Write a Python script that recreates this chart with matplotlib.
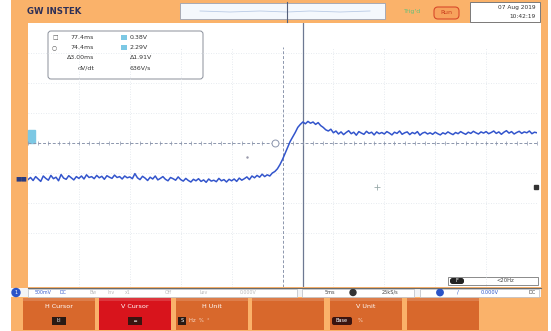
import numpy as np
import matplotlib.pyplot as plt
from matplotlib.patches import Rectangle, FancyBboxPatch

# CH1 trace, in screen divisions (10 x 8 graticule), one sample every 0.05 div
t_start, t_step = -5.0, 0.05
ch1 = [
    -1.22, -1.15, -1.25, -1.12, -1.20, -1.28, -1.10, -1.18, -1.24, -1.08,
    -1.19, -1.14, -1.26, -1.05, -1.17, -1.21, -1.09, -1.16, -1.23, -1.12,
    -1.18, -1.10, -1.20, -1.06, -1.15, -1.12, -1.19, -1.08, -1.16, -1.11,
    -1.21, -1.09, -1.14, -1.18, -1.07, -1.15, -1.12, -1.20, -1.10, -1.16,
    -1.13, -1.19, -1.02, -1.16, -1.22, -1.11, -1.17, -1.25, -1.14, -1.20,
    -1.10, -1.23, -1.18, -1.12, -1.21, -1.26, -1.15, -1.19, -1.24, -1.13,
    -1.22, -1.27, -1.18, -1.25, -1.30, -1.21, -1.26, -1.19, -1.28, -1.23,
    -1.31, -1.20, -1.27, -1.24, -1.29, -1.18, -1.26, -1.22, -1.30, -1.21,
    -1.26, -1.20, -1.28, -1.17, -1.24, -1.19, -1.13, -1.22, -1.10, -1.16,
    -1.08, -1.14, -1.04, -1.12, -1.06, -1.10, -1.00, -0.95, -0.86, -0.72,
    -0.55, -0.35, -0.15, 0.05, 0.20, 0.35, 0.52, 0.62, 0.70, 0.64,
    0.72, 0.66, 0.70, 0.62, 0.68, 0.58, 0.52, 0.44, 0.40, 0.46,
    0.34, 0.40, 0.30, 0.37, 0.28, 0.35, 0.41, 0.31, 0.36, 0.26,
    0.38, 0.33, 0.29, 0.39, 0.32, 0.36, 0.27, 0.37, 0.31, 0.35,
    0.30, 0.38, 0.33, 0.27, 0.36, 0.32, 0.40, 0.29, 0.34, 0.37,
    0.28, 0.35, 0.31, 0.38, 0.26, 0.33, 0.36, 0.30, 0.34, 0.29,
    0.36, 0.31, 0.27, 0.34, 0.30, 0.37, 0.32, 0.28, 0.35, 0.31,
    0.38, 0.33, 0.29, 0.36, 0.32, 0.39, 0.34, 0.30, 0.37, 0.33,
    0.38, 0.31, 0.35, 0.40, 0.32, 0.37, 0.29, 0.36, 0.41, 0.33,
    0.38, 0.30, 0.35, 0.39, 0.32, 0.37, 0.34, 0.40, 0.31, 0.36, 0.34,
]
t = t_start + t_step * np.arange(len(ch1))

# cursors (div)
v_cursors = [0.0, 0.40]
h_cursor = 0.0
trig = (-0.15, 0.0)

# readouts
meas_left = ["77.4ms", "74.4ms", "\u03943.00ms", "dV/dt"]
meas_right = ["0.38V", "2.29V", "\u03941.91V", "636V/s"]
buttons = ["H Cursor", "V Cursor", "H Unit", "", "V Unit", ""]
button_sub = ["I:I", "\u2550", "Hz  %  \u00b0", "", "%", ""]
date_txt = ["07 Aug 2019", "10:42:19"]

W, H = 551, 331
ORANGE = "#fab26a"
BTN = "#d8682c"
fig = plt.figure(figsize=(W / 100, H / 100), dpi=100)
fig.patch.set_facecolor("white")

# frame / decorations in pixel coordinates
bg = fig.add_axes([0, 0, 1, 1])
bg.set_xlim(0, W)
bg.set_ylim(H, 0)
bg.axis("off")
bg.add_patch(Rectangle((11, 0), 537, H, color=ORANGE, lw=0))
bg.add_patch(Rectangle((28, 23), 513, 264, color="white", lw=0))
bg.plot([28, 541], [287.5, 287.5], color="#6b6b6b", lw=0.8)

bg.text(27, 11, "GW INSTEK", fontsize=6.2, fontweight="bold", color="#2e3057", va="center")

# overview bar
bg.add_patch(Rectangle((180, 3), 205, 16, facecolor="#f4f8fc", edgecolor="#9aa3b5", lw=0.6))
bg.plot([200, 230, 260, 287, 310, 340, 370], [11, 12, 11, 12, 11, 12, 11], color="#b9cbe6", lw=0.6)
bg.plot([287, 287], [2, 22], color="#55607a", lw=0.8)

bg.text(404, 11, "Trig'd", fontsize=4.5, color="#66c07a", va="center")
bg.add_patch(FancyBboxPatch((434, 7), 25, 12, boxstyle="round,pad=0,rounding_size=4",
                            facecolor="#f7a25c", edgecolor="#d84a2a", lw=0.8))
bg.text(446.5, 13, "Run", fontsize=4.5, color="#c83a1c", ha="center", va="center")

bg.add_patch(Rectangle((470, 2), 70, 20, facecolor="white", edgecolor="#7a7a7a", lw=0.7))
bg.text(536, 7.5, date_txt[0], fontsize=4.2, color="#333", ha="right", va="center")
bg.text(536, 16, date_txt[1], fontsize=4.2, color="#333", ha="right", va="center")

# status bar
bg.add_patch(Rectangle((11, 288), 530, 9, facecolor="#f3f4f6", lw=0))
for x0, x1 in [(28, 297), (302, 414), (420, 539)]:
    bg.add_patch(Rectangle((x0, 288.5), x1 - x0, 8, facecolor="white", edgecolor="#b8bcc4", lw=0.5))
bg.add_patch(plt.Circle((16, 292.5), 4, color="#2a54c8"))
bg.text(16, 292.5, "1", fontsize=3.5, color="white", ha="center", va="center")
for x, s, c in [(35, "500mV", "#3a5fd0"), (60, "DC", "#3a5fd0"), (90, "Bw", "#bbb"),
                (108, "Inv", "#bbb"), (125, "x1", "#bbb"), (165, "Off", "#bbb"),
                (200, "Lev", "#bbb"), (240, "0.000V", "#bbb")]:
    bg.text(x, 292.5, s, fontsize=3.4, color=c, va="center")
bg.text(330, 292.5, "5ms", fontsize=3.6, color="#444", ha="center", va="center")
bg.add_patch(plt.Circle((353, 292.5), 3, color="#333"))
bg.text(390, 292.5, "25kS/s", fontsize=3.6, color="#444", ha="center", va="center")
bg.add_patch(plt.Circle((440, 292.5), 3.2, color="#2a54c8"))
bg.text(458, 292.5, "/", fontsize=3.8, color="#2a54c8", ha="center", va="center")
bg.text(490, 292.5, "0.000V", fontsize=3.6, color="#2a54c8", ha="center", va="center")
bg.text(532, 292.5, "DC", fontsize=3.6, color="#444", ha="center", va="center")

# soft keys
btn_x = [23, 99, 176, 252, 330, 407]
for i, (x, lab, sub) in enumerate(zip(btn_x, buttons, button_sub)):
    col = "#d8141c" if lab == "V Cursor" else BTN
    bg.add_patch(Rectangle((x, 298), 72, 32, facecolor=col, lw=0))
    bg.add_patch(Rectangle((x, 298), 72, 3, facecolor="white", alpha=0.15, lw=0))
    if lab:
        bg.text(x + 36, 307, lab, fontsize=4.6, color="white", ha="center", va="center")
    if lab == "H Cursor":
        bg.add_patch(Rectangle((x + 29, 317), 14, 8, facecolor="#2b1a14", lw=0))
        bg.text(x + 36, 321, sub, fontsize=3.6, color="white", ha="center", va="center")
    elif lab == "V Cursor":
        bg.add_patch(Rectangle((x + 29, 317), 14, 8, facecolor="#3a1410", lw=0))
        bg.text(x + 36, 321, sub, fontsize=3.6, color="white", ha="center", va="center")
    elif lab == "H Unit":
        bg.add_patch(Rectangle((x + 2, 317), 8, 8, facecolor="#2b1a14", lw=0))
        bg.text(x + 6, 321, "S", fontsize=3.6, color="white", ha="center", va="center")
        bg.text(x + 13, 321, sub, fontsize=3.8, color="#f6d8c4", va="center")
    elif lab == "V Unit":
        bg.add_patch(FancyBboxPatch((x + 2, 317), 20, 8, boxstyle="round,pad=0,rounding_size=2",
                                    facecolor="#3a1410", lw=0))
        bg.text(x + 12, 321, "Base", fontsize=3.6, color="white", ha="center", va="center")
        bg.text(x + 28, 321, sub, fontsize=3.8, color="#f6d8c4", va="center")

# waveform area
ax = fig.add_axes([28 / W, (H - 287) / H, 509 / W, 264 / H])
ax.set_xlim(-5, 5)
ax.set_ylim(-4.8, 4.0)
ax.patch.set_alpha(0)
ax.axis("off")
for gx in range(-4, 5):
    if gx != 0:
        ax.axvline(gx, ymin=0, ymax=8 / 8.8, color="#dfe4ea", lw=0.6, ls=(0, (1, 2)))
for gy in range(-3, 4):
    if gy != 0:
        ax.axhline(gy, color="#dfe4ea", lw=0.6, ls=(0, (1, 2)))
ax.axhline(h_cursor, color="#8c96ad", lw=0.7, ls=(0, (3, 2)))
ax.axvline(v_cursors[0], ymin=0, ymax=8 / 8.8, color="#8c96ad", lw=0.7, ls=(0, (3, 2)))
ax.axvline(v_cursors[1], color="#6d7892", lw=0.9)
minor = np.arange(-5, 5.01, 0.2)
ax.plot(minor, np.zeros_like(minor), "|", color="#8c96ad", ms=2.5, mew=0.5)

ax.plot(t, ch1, color="#3355cc", lw=1.1)

ax.plot(*trig, "o", ms=5, mfc="white", mec="#8c96ad", mew=0.7)
ax.plot(1.85, -1.47, "+", ms=4, color="#9aa", mew=0.6)
ax.plot(-0.7, -0.45, ".", ms=1.5, color="#99a")
ax.plot(4.98, -1.47, "s", ms=2.5, color="#333", clip_on=False)
ax.add_patch(Rectangle((-5, 0.0), 0.13, 0.45, color="#7cc8e4", clip_on=False))
ax.text(-5.02, -1.2, "\u25a0\u25a0", fontsize=4.5, color="#2a3c80", ha="right", va="center",
        clip_on=False)

# cursor readout box
box = FancyBboxPatch((48, 31), 155, 48, boxstyle="round,pad=0,rounding_size=3",
                     facecolor="white", edgecolor="#8a8f9a", lw=0.7)
bg.add_patch(box)
rows_y = [37.5, 47.5, 57.5, 68]
bg.text(52, rows_y[0], "\u25a1", fontsize=4.2, color="#555", va="center")
bg.text(52, rows_y[1], "\u25cb", fontsize=4.2, color="#555", va="center")
for y, l, r in zip(rows_y, meas_left, meas_right):
    bg.text(94, y, l, fontsize=4.5, color="#333", ha="right", va="center")
    bg.text(130, y, r, fontsize=4.5, color="#333", va="center")
for y in rows_y[:2]:
    bg.add_patch(Rectangle((121, y - 2.5), 6, 5, color="#7cc8e4", lw=0))
bg.add_patch(Rectangle((448, 277), 90, 8, facecolor="white", edgecolor="#777", lw=0.6))
bg.add_patch(FancyBboxPatch((450, 278), 14, 6, boxstyle="round,pad=0,rounding_size=2.5",
                            facecolor="#222", lw=0))
bg.text(457, 281, "F", fontsize=3.6, color="white", ha="center", va="center")
bg.text(505, 281, "<20Hz", fontsize=3.8, color="#444", ha="center", va="center")

fig.savefig("out.png", dpi=100)
